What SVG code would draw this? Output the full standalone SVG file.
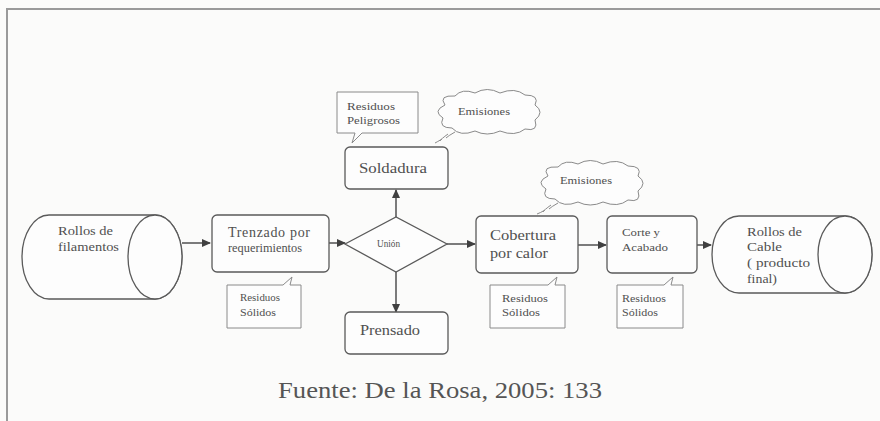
<svg xmlns="http://www.w3.org/2000/svg" width="880" height="421" viewBox="0 0 880 421">
<defs>
<style>
.bg{fill:#fbfbfa}
.frame{stroke:#9a9a9a;stroke-width:2;fill:none}
.shape{fill:#fdfdfd;stroke:#5a5a5a;stroke-width:1.3}
.call{fill:#fdfdfd;stroke:#8a8a8a;stroke-width:1}
.cloud{fill:#fdfdfd;stroke:#8a8a8a;stroke-width:1}
.conn{stroke:#505050;stroke-width:1.5;fill:none}
text{font-family:'Liberation Serif','DejaVu Serif',serif;fill:#505050}
.t15{font-size:15px}
.t14{font-size:14px}
.t12{font-size:12px}
.t11{font-size:11px}
.t10{font-size:10px}
</style>
<marker id="arr" markerWidth="9" markerHeight="8" refX="8" refY="4" orient="auto" markerUnits="userSpaceOnUse">
<path d="M0,0 L9,4 L0,8 Z" fill="#404040"/>
</marker>
<path id="cloudshape" d="M445 105 Q438 95 455 96 Q462 88 475 93 Q487 86 500 93 Q515 87 525 95 Q540 95 535 105 Q545 112 535 120 Q539 132 525 129 Q515 137 500 131 Q487 137 475 131 Q460 137 452 128 Q438 128 443 118 Q432 111 445 105 Z"/>
</defs>
<rect class="bg" x="0" y="0" width="880" height="421"/>
<path class="frame" d="M7 421 V9 H880"/>

<g id="connectors">
<line class="conn" x1="182" y1="243" x2="210" y2="243" marker-end="url(#arr)"/>
<line class="conn" x1="316" y1="243" x2="345" y2="243" marker-end="url(#arr)"/>
<line class="conn" x1="447" y1="244" x2="475" y2="244" marker-end="url(#arr)"/>
<line class="conn" x1="578" y1="245" x2="606" y2="245" marker-end="url(#arr)"/>
<line class="conn" x1="682" y1="245" x2="711" y2="245" marker-end="url(#arr)"/>
<line class="conn" x1="396" y1="217" x2="396" y2="190" marker-end="url(#arr)"/>
<line class="conn" x1="396" y1="272" x2="396" y2="312" marker-end="url(#arr)"/>
</g>

<g id="rollos-filamentos">
<path class="shape" d="M49 215 H155 A27 42 0 0 1 155 299 H49 A27 42 0 0 1 49 215 Z"/>
<ellipse class="shape" cx="155" cy="257" rx="27" ry="42"/>
<text class="t12" x="58" y="235" textLength="55" lengthAdjust="spacingAndGlyphs">Rollos de</text>
<text class="t12" x="58" y="251" textLength="61" lengthAdjust="spacingAndGlyphs">filamentos</text>
</g>

<g id="trenzado">
<rect class="shape" x="212" y="215" width="117" height="57" rx="5"/>
<text class="t14" x="228" y="237" textLength="82" lengthAdjust="spacing">Trenzado  por</text>
<text class="t12" x="228" y="252" textLength="74" lengthAdjust="spacingAndGlyphs">requerimientos</text>
</g>

<g id="union">
<path class="shape" d="M345 244 L396 217 L447 244 L396 272 Z"/>
<text class="t10" x="377" y="247" textLength="23" lengthAdjust="spacingAndGlyphs">Unión</text>
</g>

<g id="soldadura">
<rect class="shape" x="345" y="147" width="103" height="42" rx="5"/>
<text class="t15" x="359" y="173" textLength="68" lengthAdjust="spacingAndGlyphs">Soldadura</text>
</g>

<g id="prensado">
<rect class="shape" x="345" y="312" width="103" height="42" rx="5"/>
<text class="t14" x="360" y="335" textLength="60" lengthAdjust="spacingAndGlyphs">Prensado</text>
</g>

<g id="residuos-peligrosos">
<path class="call" d="M337 92 H418 V133 H362 L352 143 L355 133 H337 Z"/>
<text class="t11" x="347" y="110" textLength="48" lengthAdjust="spacingAndGlyphs">Residuos</text>
<text class="t11" x="347" y="124" textLength="53" lengthAdjust="spacingAndGlyphs">Peligrosos</text>
</g>

<g id="emisiones-1">
<use href="#cloudshape" class="cloud"/>
<path class="cloud" d="M455 132 Q448 136 446 138 M448 134 Q441 139 440 141 M442 139 Q437 142 435 143" fill="none"/>
<text class="t11" x="458" y="115" textLength="52" lengthAdjust="spacingAndGlyphs">Emisiones</text>
</g>

<g id="cobertura">
<rect class="shape" x="476" y="216" width="102" height="57" rx="5"/>
<text class="t15" x="490" y="240" textLength="66" lengthAdjust="spacingAndGlyphs">Cobertura</text>
<text class="t15" x="490" y="258" textLength="58" lengthAdjust="spacingAndGlyphs">por calor</text>
</g>

<g id="emisiones-2">
<use href="#cloudshape" class="cloud" transform="translate(103 71)"/>
<path class="cloud" d="M558 203 Q551 207 549 209 M551 205 Q544 210 543 212 M545 210 Q540 213 537 214" fill="none"/>
<text class="t11" x="560" y="184" textLength="52" lengthAdjust="spacingAndGlyphs">Emisiones</text>
</g>

<g id="corte">
<rect class="shape" x="607" y="216" width="90" height="57" rx="5"/>
<text class="t11" x="622" y="236" textLength="38" lengthAdjust="spacingAndGlyphs">Corte y</text>
<text class="t11" x="622" y="251" textLength="46" lengthAdjust="spacingAndGlyphs">Acabado</text>
</g>

<g id="rollos-cable">
<path class="shape" d="M739 216 H845 A27 38.5 0 0 1 845 293 H739 A27 38.5 0 0 1 739 216 Z"/>
<ellipse class="shape" cx="845" cy="254.5" rx="27" ry="38.5"/>
<text class="t12" x="747" y="236" textLength="55" lengthAdjust="spacingAndGlyphs">Rollos de</text>
<text class="t12" x="747" y="251" textLength="35" lengthAdjust="spacingAndGlyphs">Cable</text>
<text class="t12" x="747" y="267" textLength="63" lengthAdjust="spacingAndGlyphs">( producto</text>
<text class="t12" x="747" y="283" textLength="30" lengthAdjust="spacingAndGlyphs">final)</text>
</g>

<g id="residuos-solidos-1">
<path class="call" d="M227 285 H283 L292 277 L290 285 H301 V328 H227 Z"/>
<text class="t11" x="240" y="301" textLength="40" lengthAdjust="spacingAndGlyphs">Residuos</text>
<text class="t11" x="240" y="316" textLength="36" lengthAdjust="spacingAndGlyphs">Sólidos</text>
</g>

<g id="residuos-solidos-2">
<path class="call" d="M490 285 H548 L557 277 L555 285 H565 V328 H490 Z"/>
<text class="t11" x="502" y="302" textLength="46" lengthAdjust="spacingAndGlyphs">Residuos</text>
<text class="t11" x="502" y="316" textLength="38" lengthAdjust="spacingAndGlyphs">Sólidos</text>
</g>

<g id="residuos-solidos-3">
<path class="call" d="M617 285 H664 L673 277 L671 285 H683 V328 H617 Z"/>
<text class="t11" x="622" y="302" textLength="44" lengthAdjust="spacingAndGlyphs">Residuos</text>
<text class="t11" x="622" y="316" textLength="36" lengthAdjust="spacingAndGlyphs">Sólidos</text>
</g>

<text x="278" y="398" style="font-size:23px;fill:#555" textLength="324" lengthAdjust="spacingAndGlyphs">Fuente: De la Rosa, 2005: 133</text>
</svg>
